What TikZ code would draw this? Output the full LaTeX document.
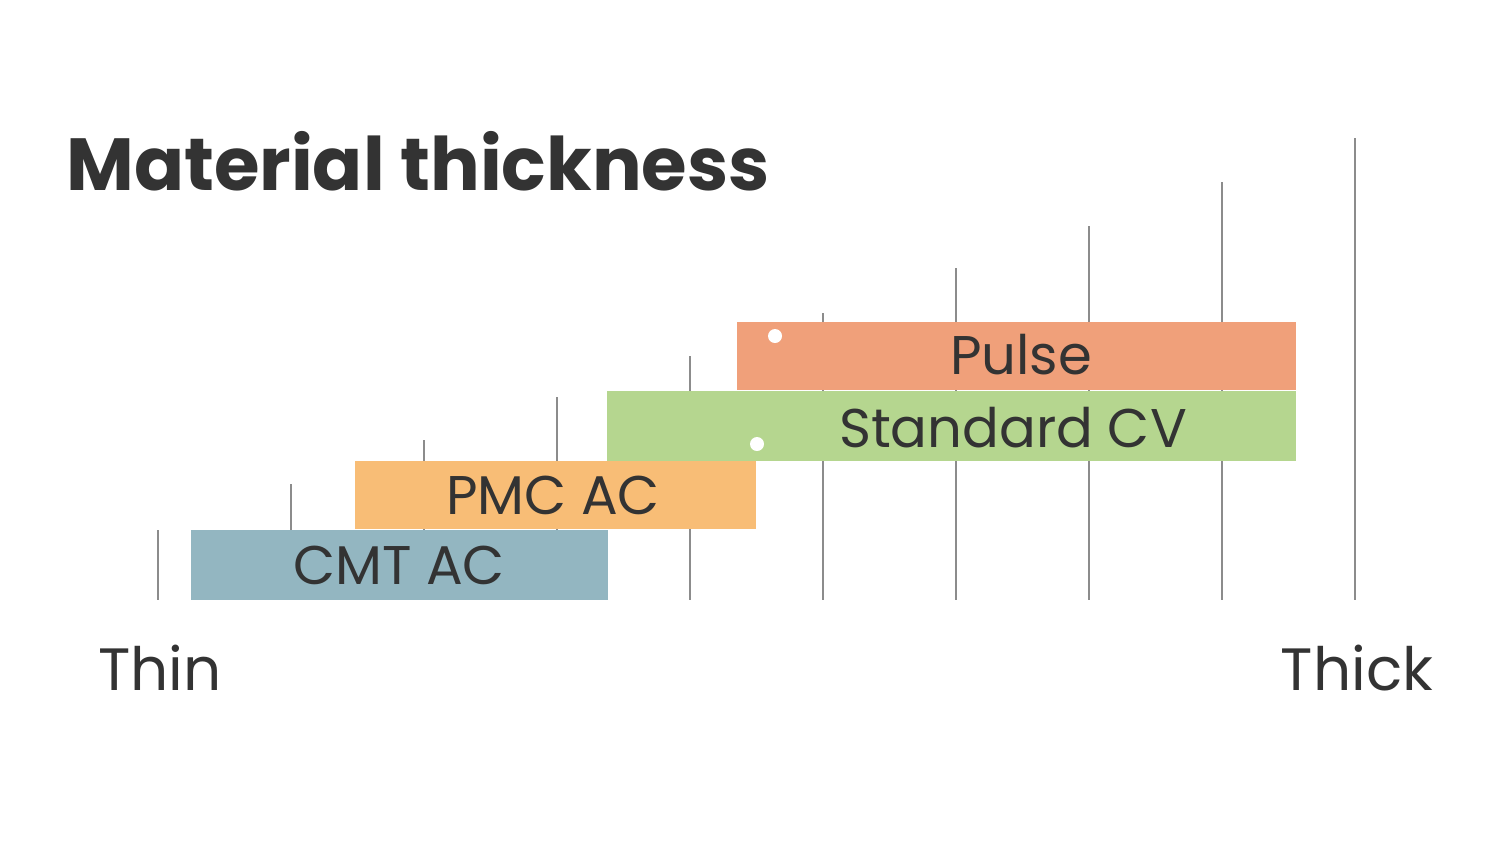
\documentclass[tikz,border=0pt]{standalone}
\usepackage{fontspec}
\setmainfont{Poppins}
\definecolor{cmt}{HTML}{93B6C1}
\definecolor{pmc}{HTML}{F8BD76}
\definecolor{std}{HTML}{B5D68F}
\definecolor{pul}{HTML}{F0A07A}
\definecolor{txt}{HTML}{333333}
\tikzset{tick/.style={draw=black!45,line width=1.2pt},
bar/.style={inner sep=0pt,outer sep=0pt,text=txt,font=\fontsize{31}{31}\selectfont}}
\begin{document}
\begin{tikzpicture}[x=0.02cm,y=-0.02cm]
\useasboundingbox[fill=white] (0,0) rectangle (1500,850);
\foreach \x/\t in {158/530,291/484,424/440,557/397,690/356,823/313,956/268,1089/226,1222/182,1355/138}
  \draw[tick] (\x,\t) -- (\x,600);
\fill[cmt] (191,530) rectangle (608,600);
\fill[pmc] (355,461) rectangle (756,529);
\fill[std] (607,391) rectangle (1296,461);
\fill[pul] (737,322) rectangle (1296,390);
\node[bar] (cmt) at (399,565) {CMT AC};
\node[bar] (pmc) at (553,495) {PMC AC};
\node[bar] (std) at (1013,428) {Standard CV};
\node[bar] (pul) at (1021,355) {Pulse};
\fill[white] (775,336) circle (7);
\fill[white] (757,444) circle (7);
\node[anchor=base west,inner sep=0pt,text=txt,font=\bfseries\fontsize{42}{42}\selectfont] (title) at (66,190) {Material thickness};
\node[anchor=base,inner sep=0pt,text=txt,font=\fontsize{34}{34}\selectfont] (thin) at (160,690) {Thin};
\node[anchor=base,inner sep=0pt,text=txt,font=\fontsize{34}{34}\selectfont] (thick) at (1357,690) {Thick};
\end{tikzpicture}
\end{document}
